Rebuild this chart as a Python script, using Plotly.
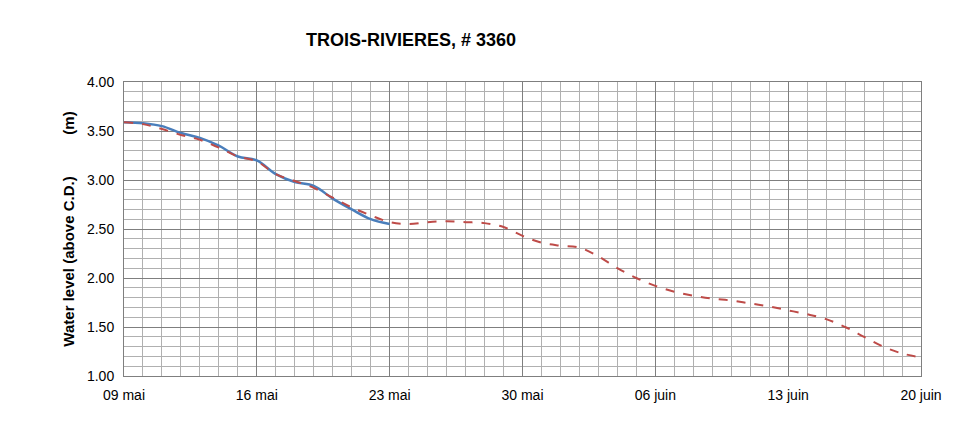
import plotly.graph_objects as go
import datetime as dt

start = dt.date(2024, 5, 9)
red_vals = [3.59, 3.57, 3.52, 3.46, 3.41, 3.33, 3.24, 3.19, 3.06, 2.99, 2.92, 2.82, 2.72, 2.64, 2.57,
            2.55, 2.57, 2.58, 2.57, 2.56, 2.52, 2.43, 2.36, 2.33, 2.31, 2.22, 2.10, 2.00, 1.92,
            1.86, 1.82, 1.79, 1.77, 1.74, 1.71, 1.67, 1.63, 1.58, 1.50, 1.40, 1.30, 1.23, 1.19]
blue_vals = [3.59, 3.58, 3.55, 3.48, 3.43, 3.35, 3.24, 3.20, 3.06, 2.98, 2.94, 2.81, 2.70, 2.60, 2.55]
red_x = [start + dt.timedelta(days=i) for i in range(len(red_vals))]
blue_x = [start + dt.timedelta(days=i) for i in range(len(blue_vals))]
tick_days = [0, 7, 14, 21, 28, 35, 42]
tick_labels = ["09 mai", "16 mai", "23 mai", "30 mai", "06 juin", "13 juin", "20 juin"]
y_ticks = [1.0, 1.5, 2.0, 2.5, 3.0, 3.5, 4.0]

fig = go.Figure()
fig.add_trace(go.Scatter(x=blue_x, y=blue_vals, mode="lines", line=dict(color="#4a7ebb", width=2.5, shape="spline"), showlegend=False))
fig.add_trace(go.Scatter(x=red_x, y=red_vals, mode="lines", line=dict(color="#be4b48", width=2, dash="dash", shape="spline"), showlegend=False))

font = "Liberation Sans, Arial, sans-serif"
fig.update_layout(
    width=969, height=421, plot_bgcolor="white", paper_bgcolor="white",
    margin=dict(l=116, r=56, t=74, b=53, autoexpand=False),
    font=dict(family=font, size=14, color="black"),
    title=dict(text="<b>TROIS-RIVIERES, # 3360</b>", x=403/969, xanchor="center", y=0.925, yanchor="middle", font=dict(size=18)),
    xaxis=dict(type="date", range=[red_x[0], red_x[-1]], automargin=False,
               tickvals=[start + dt.timedelta(days=d) for d in tick_days], ticktext=tick_labels,
               showgrid=True, gridcolor="#7f7f7f", gridwidth=1, showline=True, linecolor="#7f7f7f", mirror=True,
               minor=dict(dtick=86400000, showgrid=True, gridcolor="#b0b0b0", gridwidth=1),
               ticks="outside", ticklen=6, tickcolor="white"),
    yaxis=dict(range=[1.0, 4.0], tickvals=y_ticks, ticktext=[f"{v:.2f}" for v in y_ticks], automargin=False,
               showgrid=True, gridcolor="#7f7f7f", showline=True, linecolor="#7f7f7f", mirror=True,
               minor=dict(dtick=0.1, showgrid=True, gridcolor="#b0b0b0", gridwidth=1),
               ticks="outside", ticklen=6, tickcolor="white",
               title=dict(text="<b>Water level (above C.D.)          (m)</b>", standoff=8, font=dict(size=15))),
)
fig.write_html("out.html")
